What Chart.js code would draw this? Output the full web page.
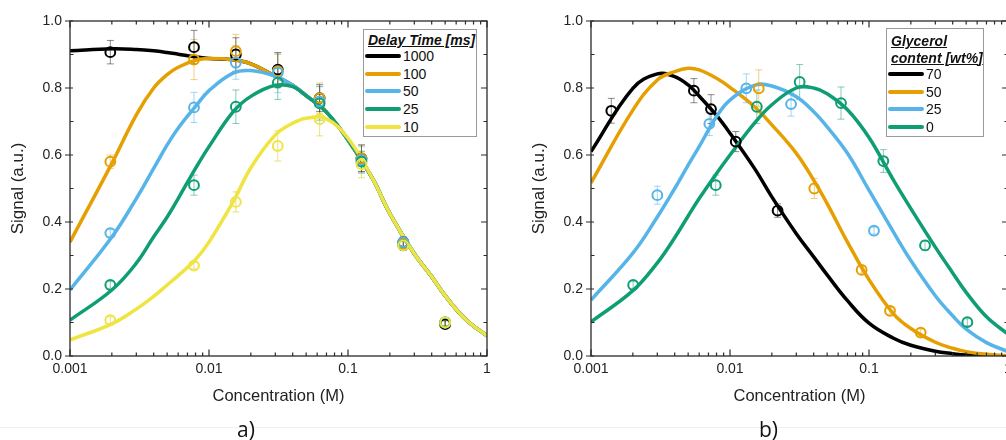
<!DOCTYPE html>
<html lang="en">
<head>
<meta charset="UTF-8">
<title>Signal vs concentration</title>
<script src="https://cdn.jsdelivr.net/npm/chart.js@4.4.1/dist/chart.umd.min.js"></script>
<style>
    html, body { margin: 0; padding: 0; background: #fff; overflow: hidden; }
    body { width: 1006px; height: 440px; position: relative; font-family: "Liberation Sans", Arial, sans-serif; color: #111; }
    .panel { position: absolute; top: 0; width: 503px; height: 440px; }
    #panelA { left: 0; }
    #panelB { left: 521px; }
    .legend { position: absolute; background: #fff; border: 1px solid #9a9a9a; box-sizing: border-box; font-size: 14px; }
    .legend .ttl { position: absolute; left: 4px; font-weight: bold; font-style: italic; text-decoration: underline; white-space: nowrap; line-height: 16px; }
    .legend .row { position: absolute; left: 1px; display: flex; align-items: center; height: 16px; line-height: 16px; }
    .legend .swatch { width: 36px; height: 4px; border-radius: 2px; margin-right: 2px; }
    .tag { position: absolute; top: 416px; font-family: "Open Sans", "Noto Sans", sans-serif; font-size: 21px; line-height: 26px; }
    .rule { position: absolute; left: 0; top: 427px; width: 1006px; height: 1px; background: #f1f1f1; }
</style>
</head>
<body>
    <div class="rule"></div>
    <div class="panel" id="panelA"><canvas id="chartA" width="503" height="440"></canvas></div>
    <div class="panel" id="panelB"><canvas id="chartB" width="503" height="440"></canvas></div>
    <div class="legend" id="legendA" style="left:363px; top:29px; width:114px; height:108px;"></div>
    <div class="legend" id="legendB" style="left:886px; top:28px; width:98px; height:109px;"></div>
    <div class="tag" style="left:237px;">a)</div>
    <div class="tag" style="left:759px;">b)</div>

<script>
// ---- axes ----
const xMajor = [0.001, 0.01, 0.1, 1];
const xLabels = ['0.001', '0.01', '0.1', '1'];
const yMin = 0, yMax = 1, yStep = 0.1;

// fitted curves are read at these concentrations (M)
const curveX = [0.001, 0.002, 0.003, 0.004, 0.005, 0.006, 0.008, 0.01, 0.015, 0.02, 0.03, 0.04, 0.05, 0.07, 0.1, 0.15, 0.2, 0.3, 0.4, 0.5, 0.7, 1];

// ---- panel a: delay time ----
const delayLabels = ['1000', '100', '50', '25', '10'];
const concA = [0.00195, 0.0078, 0.0156, 0.03125, 0.0625, 0.125, 0.25, 0.5];
const sigA1000 = [0.907, 0.922, 0.900, 0.855, 0.770, 0.590, 0.340, 0.095];
const sigA100 = [0.580, 0.885, 0.910, 0.850, 0.770, 0.590, 0.335, 0.100];
const sigA50 = [0.367, 0.742, 0.876, 0.846, 0.760, 0.585, 0.340, 0.100];
const sigA25 = [0.212, 0.510, 0.744, 0.816, 0.754, 0.580, 0.330, 0.100];
const sigA10 = [0.107, 0.270, 0.460, 0.627, 0.707, 0.572, 0.330, 0.100];
const errA1000 = [0.035, 0.050, 0.050, 0.050, 0.040, 0.040, 0.015, 0.010];
const errA100 = [0.020, 0.060, 0.050, 0.050, 0.045, 0.040, 0.015, 0.010];
const errA50 = [0.010, 0.045, 0.050, 0.060, 0.045, 0.040, 0.015, 0.010];
const errA25 = [0.010, 0.030, 0.050, 0.050, 0.050, 0.030, 0.015, 0.010];
const errA10 = [0.010, 0.010, 0.030, 0.045, 0.050, 0.040, 0.015, 0.010];
const fitA1000 = [0.911, 0.917, 0.915, 0.911, 0.906, 0.901, 0.893, 0.888, 0.884, 0.872, 0.835, 0.808, 0.777, 0.728, 0.645, 0.530, 0.425, 0.305, 0.237, 0.180, 0.110, 0.060];
const fitA100 = [0.340, 0.575, 0.720, 0.800, 0.840, 0.862, 0.883, 0.888, 0.884, 0.872, 0.835, 0.808, 0.777, 0.728, 0.645, 0.530, 0.425, 0.305, 0.237, 0.180, 0.110, 0.060];
const fitA50 = [0.197, 0.355, 0.470, 0.560, 0.630, 0.680, 0.745, 0.792, 0.845, 0.852, 0.835, 0.808, 0.777, 0.728, 0.645, 0.530, 0.425, 0.305, 0.237, 0.180, 0.110, 0.060];
const fitA25 = [0.107, 0.197, 0.277, 0.356, 0.415, 0.470, 0.560, 0.625, 0.730, 0.775, 0.808, 0.804, 0.777, 0.728, 0.645, 0.530, 0.425, 0.305, 0.237, 0.180, 0.110, 0.060];
const fitA10 = [0.048, 0.096, 0.140, 0.178, 0.212, 0.240, 0.288, 0.340, 0.462, 0.562, 0.660, 0.695, 0.710, 0.708, 0.650, 0.530, 0.425, 0.305, 0.237, 0.180, 0.110, 0.060];

// ---- panel b: glycerol content ----
const glyLabels = ['70', '50', '25', '0'];
const concB70 = [0.0014, 0.0055, 0.0073, 0.011, 0.022];
const sigB70 = [0.732, 0.792, 0.737, 0.640, 0.434];
const errB70 = [0.037, 0.036, 0.043, 0.030, 0.020];
const concB50 = [0.0161, 0.0404, 0.0885, 0.1416, 0.2354];
const sigB50 = [0.799, 0.500, 0.257, 0.135, 0.070];
const errB50 = [0.055, 0.030, 0.010, 0.010, 0.010];
const concB25 = [0.0030, 0.0071, 0.0131, 0.0275, 0.1086];
const sigB25 = [0.480, 0.693, 0.799, 0.752, 0.374];
const errB25 = [0.027, 0.035, 0.043, 0.036, 0.010];
const concB0 = [0.00201, 0.0079, 0.0156, 0.0317, 0.0629, 0.1268, 0.253, 0.51];
const sigB0 = [0.212, 0.510, 0.744, 0.818, 0.755, 0.582, 0.330, 0.101];
const errB0 = [0.010, 0.030, 0.050, 0.052, 0.048, 0.034, 0.015, 0.010];
const fitB70 = [0.610, 0.799, 0.842, 0.834, 0.809, 0.776, 0.718, 0.665, 0.560, 0.475, 0.365, 0.296, 0.242, 0.165, 0.098, 0.053, 0.032, 0.014, 0.007, 0.003, 0.001, 0.000];
const fitB50 = [0.517, 0.734, 0.824, 0.849, 0.859, 0.854, 0.829, 0.802, 0.744, 0.690, 0.605, 0.525, 0.455, 0.340, 0.228, 0.126, 0.082, 0.041, 0.023, 0.013, 0.005, 0.001];
const fitB25 = [0.167, 0.307, 0.415, 0.500, 0.570, 0.625, 0.715, 0.764, 0.808, 0.806, 0.774, 0.729, 0.684, 0.605, 0.495, 0.370, 0.285, 0.180, 0.120, 0.080, 0.040, 0.013];
const fitB0 = [0.102, 0.195, 0.278, 0.353, 0.418, 0.470, 0.545, 0.600, 0.695, 0.750, 0.800, 0.800, 0.783, 0.735, 0.652, 0.525, 0.440, 0.325, 0.248, 0.190, 0.117, 0.065];

// colours
const BLACK = '#000000', ORANGE = '#E69F00', BLUE = '#56B4E9', GREEN = '#0F9E74', YELLOW = '#F0E442';
const ERR = {
    [BLACK]: 'rgba(0,0,0,0.45)', [ORANGE]: 'rgba(230,159,0,0.5)', [BLUE]: 'rgba(86,180,233,0.55)',
    [GREEN]: 'rgba(15,158,116,0.5)', [YELLOW]: 'rgba(220,205,40,0.6)'
};

// minor ticks on log axis: 1..9 per decade
const xTicks = [];
xMajor.slice(0, -1).forEach(d => { for (let k = 1; k <= 9; k++) xTicks.push(+(k * d).toPrecision(3)); });
xTicks.push(1);

function isMajorY(v) { return Math.abs(v * 5 - Math.round(v * 5)) < 1e-6; }
function pts(xs, ys) { return xs.map((x, i) => ({ x: x, y: ys[i] })); }

function fitSet(label, color, ys, order) {
    return {
        label: label, data: pts(curveX, ys), showLine: true, borderColor: color, backgroundColor: color,
        borderWidth: 3.5, pointRadius: 0, pointHoverRadius: 0, tension: 0.4, order: order
    };
}
function dotSet(label, color, xs, ys, errs, order) {
    return {
        label: label, data: pts(xs, ys), errors: errs, errColor: ERR[color], showLine: false,
        borderColor: color, backgroundColor: 'rgba(0,0,0,0)', pointRadius: 4.9, pointHoverRadius: 4.9,
        borderWidth: 2, order: order
    };
}

const errorBars = {
    id: 'errorBars',
    beforeDatasetsDraw(chart) {
        const { ctx, scales: { x, y } } = chart;
        ctx.save();
        ctx.lineWidth = 1;
        chart.data.datasets.forEach(ds => {
            if (!ds.errors) return;
            ctx.strokeStyle = ds.errColor;
            ds.data.forEach((p, j) => {
                const px = x.getPixelForValue(p.x);
                const top = y.getPixelForValue(p.y + ds.errors[j]);
                const bot = y.getPixelForValue(p.y - ds.errors[j]);
                ctx.beginPath();
                ctx.moveTo(px, top); ctx.lineTo(px, bot);
                ctx.moveTo(px - 3.5, top); ctx.lineTo(px + 3.5, top);
                ctx.moveTo(px - 3.5, bot); ctx.lineTo(px + 3.5, bot);
                ctx.stroke();
            });
        });
        ctx.restore();
    }
};

const frameTicks = {
    id: 'frameTicks',
    afterDraw(chart) {
        const { ctx, chartArea: a, scales: { x, y } } = chart;
        ctx.save();
        ctx.strokeStyle = '#2a2a2a';
        ctx.lineWidth = 1.3;
        ctx.strokeRect(a.left, a.top, a.right - a.left, a.bottom - a.top);
        ctx.lineWidth = 1.2;
        ctx.beginPath();
        x.ticks.forEach(t => {
            const px = x.getPixelForValue(t.value);
            const len = xMajor.includes(t.value) ? 6.5 : 3.5;
            ctx.moveTo(px, a.bottom); ctx.lineTo(px, a.bottom - len);
            ctx.moveTo(px, a.top); ctx.lineTo(px, a.top + len);
        });
        y.ticks.forEach(t => {
            const py = y.getPixelForValue(t.value);
            if (isMajorY(t.value)) {
                ctx.moveTo(a.left - 5, py); ctx.lineTo(a.left + 3, py);
                ctx.moveTo(a.right, py); ctx.lineTo(a.right - 6, py);
            } else {
                ctx.moveTo(a.left, py); ctx.lineTo(a.left + 3.5, py);
                ctx.moveTo(a.right, py); ctx.lineTo(a.right - 3.5, py);
            }
        });
        ctx.stroke();
        ctx.restore();
    }
};

Chart.defaults.font.family = '"Liberation Sans", Arial, sans-serif';
Chart.defaults.color = '#222';

function makeOptions() {
    return {
        responsive: false,
        animation: false,
        devicePixelRatio: 1,
        layout: { padding: { left: 0, right: 16, top: 21, bottom: 0 } },
        plugins: { legend: { display: false }, tooltip: { enabled: false } },
        scales: {
            x: {
                type: 'logarithmic', min: 0.001, max: 1,
                grid: { display: false, drawTicks: false }, border: { display: false },
                afterBuildTicks: s => { s.ticks = xTicks.map(v => ({ value: v })); },
                afterFit: s => { s.height = 84; },
                ticks: {
                    autoSkip: false, maxRotation: 0, padding: 5, font: { size: 14 }, color: '#222',
                    callback: v => { const i = xMajor.indexOf(v); return i >= 0 ? xLabels[i] : ''; }
                },
                title: { display: true, text: 'Concentration (M)', font: { size: 16.5 }, color: '#222', padding: { top: 0, bottom: 34 } }
            },
            y: {
                min: yMin, max: yMax,
                grid: { display: false, drawTicks: false }, border: { display: false },
                afterFit: s => { s.width = 70; },
                ticks: {
                    stepSize: yStep, autoSkip: false, padding: 8, font: { size: 14 }, color: '#222',
                    callback: v => isMajorY(v) ? v.toFixed(1) : ''
                },
                title: { display: true, text: 'Signal (a.u.)', font: { size: 17 }, color: '#222', padding: { top: 8, bottom: 0 } }
            }
        }
    };
}

new Chart(document.getElementById('chartA'), {
    type: 'scatter',
    data: {
        datasets: [
            dotSet('10', YELLOW, concA, sigA10, errA10, 0),
            dotSet('25', GREEN, concA, sigA25, errA25, 0),
            dotSet('50', BLUE, concA, sigA50, errA50, 0),
            dotSet('100', ORANGE, concA, sigA100, errA100, 0),
            dotSet('1000', BLACK, concA, sigA1000, errA1000, 0),
            fitSet('10', YELLOW, fitA10, 1),
            fitSet('25', GREEN, fitA25, 2),
            fitSet('50', BLUE, fitA50, 3),
            fitSet('100', ORANGE, fitA100, 4),
            fitSet('1000', BLACK, fitA1000, 5)
        ]
    },
    options: makeOptions(),
    plugins: [errorBars, frameTicks]
});

new Chart(document.getElementById('chartB'), {
    type: 'scatter',
    data: {
        datasets: [
            dotSet('0', GREEN, concB0, sigB0, errB0, 0),
            dotSet('25', BLUE, concB25, sigB25, errB25, 0),
            dotSet('50', ORANGE, concB50, sigB50, errB50, 0),
            dotSet('70', BLACK, concB70, sigB70, errB70, 0),
            fitSet('0', GREEN, fitB0, 1),
            fitSet('25', BLUE, fitB25, 2),
            fitSet('50', ORANGE, fitB50, 3),
            fitSet('70', BLACK, fitB70, 4)
        ]
    },
    options: makeOptions(),
    plugins: [errorBars, frameTicks]
});

// legends (html boxes, rows centred on given offsets)
function buildLegend(id, titleLines, titleTops, labels, colors, rowTops) {
    const box = document.getElementById(id);
    titleLines.forEach((t, i) => {
        const d = document.createElement('div');
        d.className = 'ttl';
        d.style.top = titleTops[i] + 'px';
        d.textContent = t;
        box.appendChild(d);
    });
    labels.forEach((lab, i) => {
        const r = document.createElement('div');
        r.className = 'row';
        r.style.top = rowTops[i] + 'px';
        r.innerHTML = '<span class="swatch" style="background:' + colors[i] + '"></span><span>' + lab + '</span>';
        box.appendChild(r);
    });
}
buildLegend('legendA', ['Delay Time [ms]'], [2], delayLabels, [BLACK, ORANGE, BLUE, GREEN, YELLOW], [18, 35.5, 53, 71, 89]);
buildLegend('legendB', ['Glycerol', 'content [wt%]'], [4, 20.5], glyLabels, [BLACK, ORANGE, BLUE, GREEN], [37, 54.5, 72, 89.5]);
</script>
</body>
</html>
